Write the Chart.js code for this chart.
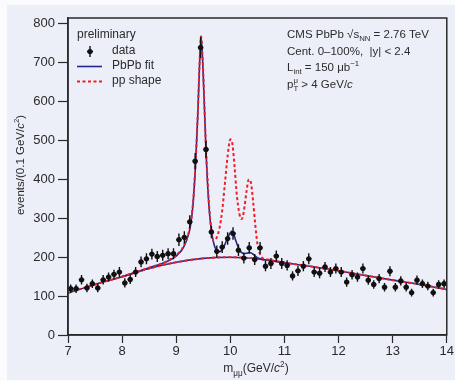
<!DOCTYPE html>
<html>
<head>
<meta charset="utf-8">
<script src="https://cdn.jsdelivr.net/npm/chart.js@4.4.0/dist/chart.umd.min.js"></script>
<style>
html,body{margin:0;padding:0;background:#fff;}
#wrap{width:455px;height:381px;position:relative;}
</style>
</head>
<body>
<div id="wrap"><canvas id="c" width="455" height="381"></canvas></div>
<script>
// ---- data ----
const massBins = [7.05,7.15,7.25,7.35,7.45,7.55,7.65,7.75,7.85,7.95,
  8.05,8.15,8.25,8.35,8.45,8.55,8.65,8.75,8.85,8.95,
  9.05,9.15,9.25,9.35,9.45,9.55,9.65,9.75,9.85,9.95,
  10.05,10.15,10.25,10.35,10.45,10.55,10.65,10.75,10.85,10.95,
  11.05,11.15,11.25,11.35,11.45,11.55,11.65,11.75,11.85,11.95,
  12.05,12.15,12.25,12.35,12.45,12.55,12.65,12.75,12.85,12.95,
  13.05,13.15,13.25,13.35,13.45,13.55,13.65,13.75,13.85,13.95];
const events = [119,119,142,121,132,121,142,149,156,162,
  134,143,162,188,196,208,202,205,209,209,
  245,251,291,447,739,477,265,215,226,248,
  261,218,198,224,194,224,177,184,203,184,
  179,152,165,177,196,162,159,175,162,171,
  162,136,155,149,171,141,130,145,123,164,
  123,139,123,109,141,132,126,109,130,132];
const eventErr = [11,11,12,11,11,11,12,12,12,13,
  12,12,13,14,14,14,14,14,14,14,
  16,16,17,21,27,22,16,15,15,16,
  16,15,14,15,14,15,13,14,14,14,
  13,12,13,13,14,13,13,13,13,13,
  13,12,12,12,13,12,11,12,11,13,
  11,12,11,10,12,11,11,10,11,11];
const bgMass = [7,7.5,8,8.5,9,9.5,10,10.5,11,11.5,12,12.5,13,13.5,14];
const bgVals = [108,130,150,171,187,197,200,196,186,176,165,153,141,130,117];
const fitMass = [8,8.5,8.8,9,9.05,9.1,9.15,9.2,9.26,9.31,9.36,9.4,9.43,9.46,9.49,9.52,9.55,9.6,9.65,9.7,9.75,9.8,9.85,9.9,9.95,10,10.03,10.06,10.1,10.15,10.2,10.25,10.3,10.35,10.4,10.45,10.5,10.6,10.8,11];
const fitVals = [150,173,187,203,210,218,230,247,278,335,445,570,690,765,700,590,475,340,268,232,217,214,220,233,250,263,267,260,243,224,213,209,210,212,210,204,199,194,190,186];
const ppMass = [8,8.5,8.8,9,9.05,9.1,9.15,9.2,9.26,9.31,9.36,9.4,9.43,9.46,9.49,9.52,9.55,9.6,9.64,9.69,9.74,9.8,9.85,9.9,9.95,10,10.04,10.08,10.12,10.17,10.21,10.25,10.3,10.34,10.38,10.42,10.46,10.5,10.55,10.6,10.7,10.8,11];
const ppVals = [150,173,188,205,212,220,233,250,283,340,450,575,695,768,705,595,480,350,280,243,248,275,320,390,460,503,490,430,360,310,298,318,370,400,392,345,285,235,207,197,194,191,186];
const xTicks = [7,8,9,10,11,12,13,14];
const yTicks = [0,100,200,300,400,500,600,700,800];

const FONT = '"Liberation Sans", Arial, Helvetica, sans-serif';
const TXT = '#2b2b2b';
const BLUE = 'rgb(35,38,140)';
const RED = 'rgb(236,32,40)';

function pts(xs, ys){ return xs.map((x,i)=>({x:x,y:ys[i]})); }

function rich(ctx, x, y, parts, fs, align){
  const small = fs*0.68;
  const f = (s,it)=> (it?'italic ':'') + s + 'px ' + FONT;
  let w = 0;
  const widths = parts.map(p=>{
    let pw;
    if (p.sub!==undefined && p.sup!==undefined){
      ctx.font = f(small); pw = Math.max(ctx.measureText(p.sub).width, ctx.measureText(p.sup).width);
    } else if (p.sub!==undefined){ ctx.font=f(small); pw=ctx.measureText(p.sub).width; }
    else if (p.sup!==undefined){ ctx.font=f(small); pw=ctx.measureText(p.sup).width; }
    else { ctx.font=f(fs,p.it); pw=ctx.measureText(p.t).width; }
    w += pw; return pw;
  });
  let cx = align==='center' ? x - w/2 : x;
  ctx.textBaseline='alphabetic'; ctx.textAlign='left';
  parts.forEach((p,i)=>{
    if (p.sub!==undefined){ ctx.font=f(small); ctx.fillText(p.sub, cx, y+fs*0.3); }
    if (p.sup!==undefined){ ctx.font=f(small); ctx.fillText(p.sup, cx, y-fs*0.42); }
    if (p.t!==undefined){ ctx.font=f(fs,p.it); ctx.fillText(p.t, cx, y); }
    cx += widths[i];
  });
}

const decor = {
  id:'decor',
  beforeDraw(chart){
    const ctx = chart.ctx;
    ctx.save();
    ctx.fillStyle = '#fbfbfd'; ctx.fillRect(0,0,455,381);
    ctx.fillStyle = '#edeff8'; ctx.fillRect(7,5,448,375);
    ctx.restore();
  },
  afterDatasetsDraw(chart){
    const ctx = chart.ctx, xs = chart.scales.x, ys = chart.scales.y;
    ctx.save();
    ctx.strokeStyle = '#111'; ctx.lineWidth = 1.4;
    massBins.forEach((m,i)=>{
      const px = xs.getPixelForValue(m), py = ys.getPixelForValue(events[i]);
      ctx.beginPath();
      ctx.moveTo(px, ys.getPixelForValue(events[i]-eventErr[i]));
      ctx.lineTo(px, ys.getPixelForValue(events[i]+eventErr[i]));
      ctx.moveTo(xs.getPixelForValue(m-0.05), py);
      ctx.lineTo(xs.getPixelForValue(m+0.05), py);
      ctx.stroke();
    });
    ctx.restore();
  },
  afterDraw(chart){
    const ctx = chart.ctx, a = chart.chartArea;
    ctx.save();
    // frame
    ctx.strokeStyle = '#2a2a2a'; ctx.lineWidth = 1.5;
    ctx.strokeRect(a.left, a.top, a.right-a.left, a.bottom-a.top);
    ctx.fillStyle = TXT;
    // legend
    ctx.font = '12px ' + FONT; ctx.textBaseline='middle'; ctx.textAlign='left';
    ctx.fillText('preliminary', 77, 35);
    ctx.fillText('data', 112, 51);
    ctx.fillText('PbPb fit', 112, 66);
    ctx.fillText('pp shape', 112, 81);
    ctx.strokeStyle='#111'; ctx.lineWidth=1.4;
    ctx.beginPath(); ctx.moveTo(90,46); ctx.lineTo(90,57); ctx.moveTo(87,51.5); ctx.lineTo(93,51.5); ctx.stroke();
    ctx.fillStyle='#111'; ctx.beginPath(); ctx.arc(90,51.5,2.6,0,Math.PI*2); ctx.fill();
    ctx.strokeStyle=BLUE; ctx.lineWidth=1.6;
    ctx.beginPath(); ctx.moveTo(77,66.5); ctx.lineTo(102,66.5); ctx.stroke();
    ctx.strokeStyle=RED; ctx.lineWidth=2; ctx.setLineDash([3,2.5]);
    ctx.beginPath(); ctx.moveTo(77,81.5); ctx.lineTo(102,81.5); ctx.stroke();
    ctx.setLineDash([]);
    // info block
    ctx.fillStyle = TXT;
    const fs = 11.5;
    rich(ctx, 287, 38, [{t:'CMS PbPb \u221As'},{sub:'NN'},{t:' = 2.76 TeV'}], fs);
    rich(ctx, 287, 55, [{t:'Cent. 0\u2013100%,  |y| < 2.4'}], fs);
    rich(ctx, 287, 71, [{t:'L'},{sub:'int'},{t:' = 150 \u03BCb'},{sup:'\u22121'}], fs);
    rich(ctx, 287, 88, [{t:'p'},{sup:'\u03BC', sub:'T'},{t:' > 4 GeV/'},{t:'c', it:true}], fs);
    // axis titles
    rich(ctx, 256, 372, [{t:'m'},{sub:'\u03BC\u03BC'},{t:'(GeV/'},{t:'c',it:true},{sup:'2'},{t:')'}], 12, 'center');
    ctx.save();
    ctx.translate(24, 165); ctx.rotate(-Math.PI/2);
    rich(ctx, 0, 0, [{t:'events/(0.1 GeV/'},{t:'c',it:true},{sup:'2'},{t:')'}], 11.5, 'center');
    ctx.restore();
    ctx.restore();
  }
};

new Chart(document.getElementById('c'), {
  type:'scatter',
  data:{
    datasets:[
      {label:'data', data:pts(massBins, events), pointStyle:'circle', pointRadius:2.6, pointHoverRadius:2.6,
       backgroundColor:'#111', borderColor:'#111', borderWidth:0, showLine:false},
      {label:'pp shape', data:pts(ppMass, ppVals), showLine:true, borderColor:RED, borderWidth:2, borderDash:[3,2.5],
       pointRadius:0, cubicInterpolationMode:'monotone', fill:false},
      {label:'PbPb fit', data:pts(fitMass, fitVals), showLine:true, borderColor:BLUE, borderWidth:1.6,
       pointRadius:0, cubicInterpolationMode:'monotone', fill:false},
      {label:'pp bkg', data:pts(bgMass, bgVals), showLine:true, borderColor:RED, borderWidth:2, borderDash:[3,2.5],
       pointRadius:0, cubicInterpolationMode:'monotone', fill:false},
      {label:'PbPb bkg', data:pts(bgMass, bgVals), showLine:true, borderColor:BLUE, borderWidth:1.6,
       pointRadius:0, cubicInterpolationMode:'monotone', fill:false}
    ]
  },
  options:{
    responsive:false, animation:false, devicePixelRatio:1,
    layout:{padding:{left:0,right:8,top:18,bottom:0}},
    plugins:{legend:{display:false}, tooltip:{enabled:false}},
    scales:{
      x:{type:'linear', min:7, max:14,
        afterFit(s){ s.height = 46; },
        afterBuildTicks(s){ s.ticks = xTicks.map(v=>({value:v})); },
        ticks:{color:TXT, font:{family:FONT, size:13}, padding:1, maxRotation:0, autoSkip:false},
        grid:{drawOnChartArea:false, drawTicks:true, tickLength:8, color:'#2a2a2a', tickWidth:1.2},
        border:{display:true, color:'#2a2a2a', width:1.5}
      },
      y:{type:'linear', min:0, max:815,
        afterFit(s){ s.width = 68; },
        afterBuildTicks(s){ s.ticks = yTicks.map(v=>({value:v})); },
        ticks:{color:TXT, font:{family:FONT, size:13}, padding:3, autoSkip:false},
        grid:{drawOnChartArea:false, drawTicks:true, tickLength:10, color:'#2a2a2a', tickWidth:1.2},
        border:{display:true, color:'#2a2a2a', width:1.5}
      }
    }
  },
  plugins:[decor]
});
</script>
</body>
</html>
